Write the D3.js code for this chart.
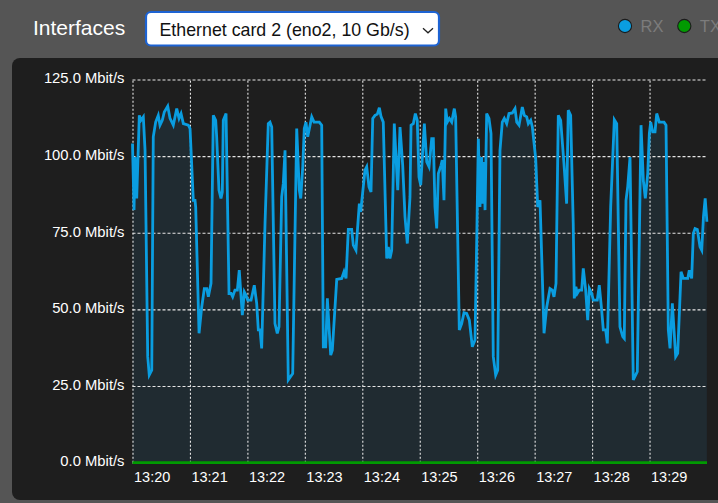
<!DOCTYPE html>
<html>
<head>
<meta charset="utf-8">
<script src="https://cdn.jsdelivr.net/npm/d3@7/dist/d3.min.js"></script>
<style>
  html, body { margin: 0; padding: 0; background: #555555; }
  svg { display: block; font-family: "Liberation Sans", Arial, Helvetica, sans-serif; }
</style>
</head>
<body>
<svg id="chart" width="718" height="503"></svg>
<script>
// Interface throughput samples: seconds after 13:20:00 and received rate in Mbit/s
const rxSeconds = [
  0, 1.6, 2.6, 4.4, 7.1, 8.9, 11.3, 13.1, 15.9, 17.5, 20.1, 21.7, 24.2, 26.9, 28.7, 31.1, 33.2, 36.8, 39.2, 42.6,
  46.2, 48.6, 50.7, 53.1, 58.3, 60.1, 63.5, 65.3, 66.0, 69.5, 72.3, 75.0, 77.5, 79.2, 82.0, 84.4, 86.9, 87.9, 90.3, 92.4,
  93.8, 94.8, 97.7, 100.8, 102.9, 104.6, 107.0, 109.5, 111.5, 114.7, 116.8, 118.5, 120.3, 123.8, 127.2, 129.7, 131.4, 133.2, 134.9, 138.4,
  141.8, 143.6, 145.4, 148.8, 151.2, 153.0, 155.8, 157.5, 159.3, 162.7, 167.3, 171.5, 174.2, 175.7, 177.8, 179.4, 181.2, 183.0, 187.2, 189.6,
  195.1, 197.6, 199.3, 201.8, 203.5, 207.0, 208.7, 213.3, 218.5, 220.9, 223.0, 225.4, 228.9, 230.6, 233.4, 236.9, 238.3, 241.0, 242.8, 244.6,
  247.0, 249.1, 250.9, 253.3, 255.7, 257.8, 259.5, 261.9, 265.5, 267.2, 268.9, 270.7, 273.4, 277.0, 279.4, 282.2, 284.6, 287.0, 289.8, 290.9,
  293.3, 295.4, 297.4, 299.2, 301.0, 302.7, 304.8, 307.3, 309.7, 312.5, 314.2, 315.9, 317.7, 319.4, 322.2, 323.5, 325.3, 327.1, 328.8, 330.9,
  333.4, 336.1, 337.5, 341.3, 343.8, 346.2, 349.0, 351.8, 354.9, 357.7, 359.5, 361.2, 362.9, 364.7, 365.7, 367.1, 368.2, 369.9, 372.3, 374.4,
  376.8, 379.3, 381.4, 383.8, 386.2, 388.3, 390.8, 393.2, 396.7, 399.5, 401.3, 403.7, 407.1, 409.2, 411.7, 413.4, 415.9, 417.6, 421.1, 423.2,
  425.6, 429.8, 432.6, 436.0, 438.4, 440.2, 442.3, 444.7, 447.2, 450.6, 453.4, 455.1, 457.6, 460.3, 461.4, 463.1, 464.5, 466.6, 469.1, 470.8,
  473.3, 475.4, 477.1, 479.6, 481.3, 485.4, 487.5, 490.0, 491.7, 494.2, 495.9, 499.4, 503.2, 505.7, 509.1, 512.0, 513.6, 515.4, 517.2, 519.6,
  523.0, 527.2, 531.1, 533.5, 535.6, 538.1, 539.8, 541.2, 543.3, 545.7, 547.5, 550.2, 555.1, 557.2, 559.6, 561.4, 563.8, 567.3, 569.4, 572.9,
  575.3, 579.9, 581.5, 584.0, 585.7, 587.5, 589.9, 592.7, 594.5, 596.3, 598.1, 599.9
];
const rxMbit = [
  104.1, 82.4, 99.7, 86.2, 113.3, 111.7, 112.8, 101.9, 34.6, 28.6, 30.2, 106.3, 111.1, 113.3, 110.1, 111.7, 114.4, 116.3, 112.3, 110.1,
  115.5, 112.3, 113.9, 110.6, 110.1, 109.0, 85.6, 85.6, 83.4, 42.2, 50.8, 56.8, 56.8, 54.1, 58.5, 113.3, 111.7, 106.3, 88.9, 86.2,
  88.3, 111.7, 113.9, 55.2, 55.2, 54.1, 56.3, 56.3, 62.8, 48.1, 55.7, 54.7, 53.0, 53.0, 57.9, 52.0, 43.3, 43.3, 37.3, 78.0,
  110.6, 111.1, 109.5, 45.4, 42.2, 44.3, 86.7, 91.1, 101.9, 27.0, 29.1, 109.0, 88.9, 86.2, 96.5, 109.0, 111.1, 106.3, 112.8, 111.1,
  111.1, 110.1, 37.8, 37.8, 53.6, 35.1, 36.7, 59.8, 60.1, 62.3, 60.1, 76.1, 76.1, 71.0, 69.3, 84.5, 81.8, 90.0, 95.4, 96.5,
  90.0, 88.3, 112.3, 113.3, 113.7, 115.8, 113.0, 111.1, 66.6, 70.4, 66.6, 69.3, 110.6, 88.9, 109.5, 97.0, 80.2, 71.5, 86.7, 110.1,
  110.6, 113.9, 111.7, 93.2, 90.5, 99.7, 110.6, 98.1, 96.5, 105.7, 105.7, 83.4, 76.4, 94.3, 97.0, 98.7, 85.6, 115.5, 111.1, 112.3,
  111.1, 115.5, 112.8, 43.3, 45.4, 48.9, 48.7, 46.5, 37.8, 40.0, 72.6, 105.7, 83.4, 99.7, 84.5, 98.1, 82.4, 113.9, 112.3, 107.4,
  34.6, 28.6, 30.2, 101.9, 111.1, 112.3, 110.6, 113.9, 114.1, 115.5, 111.1, 110.1, 116.0, 113.3, 112.8, 110.6, 111.7, 109.5, 99.2, 83.4,
  85.6, 42.2, 50.8, 56.8, 56.3, 54.1, 58.5, 113.3, 111.7, 97.6, 84.5, 115.0, 113.3, 78.0, 53.6, 57.4, 55.2, 56.3, 56.3, 63.4,
  56.3, 46.5, 56.8, 55.2, 53.0, 53.0, 57.9, 49.8, 43.3, 43.3, 38.9, 83.4, 111.9, 110.6, 44.3, 41.1, 40.5, 85.6, 90.0, 99.7,
  27.0, 29.7, 110.1, 92.1, 86.2, 94.3, 107.4, 111.1, 107.9, 107.9, 113.9, 111.1, 111.1, 110.1, 43.3, 37.3, 52.0, 34.6, 35.7, 62.3,
  60.1, 60.1, 62.8, 60.1, 74.8, 76.4, 76.1, 70.4, 69.3, 80.2, 86.2, 78.6
];
// Transmit rate over the same window (idle)
const txSeconds = [0, 600];
const txMbit = [0, 0];

const yTicks = [0, 25, 50, 75, 100, 125];
const xTickLabels = ["13:20", "13:21", "13:22", "13:23", "13:24", "13:25", "13:26", "13:27", "13:28", "13:29"];
const legendNames = ["RX", "TX"];
const seriesColors = { RX: "#0a9de0", TX: "#019a01" };
const interfaceLabel = "Ethernet card 2 (eno2, 10 Gb/s)";

(function draw() {
  const svg = d3.select("#chart");
  const W = 718, H = 503;

  // header band and chart panel
  svg.append("rect").attr("x", 0).attr("y", 0).attr("width", W).attr("height", H).attr("fill", "#555555");
  svg.append("rect").attr("x", 12).attr("y", 58).attr("width", 714).attr("height", 442).attr("rx", 8).attr("fill", "#1e1e1e");

  svg.append("text").attr("x", 33).attr("y", 35).attr("fill", "#ffffff")
    .attr("font-size", 21).text("Interfaces");

  // interface selector
  const sel = svg.append("g");
  sel.append("rect").attr("x", 146).attr("y", 12).attr("width", 293).attr("height", 33.5).attr("rx", 5)
    .attr("fill", "#ffffff").attr("stroke", "#1d63d3").attr("stroke-width", 2.2);
  sel.append("text").attr("x", 159.5).attr("y", 35.5).attr("fill", "#111").attr("font-size", 17.8).text(interfaceLabel);
  sel.append("path").attr("d", "M423,28.3 L428,32.8 L433,28.3").attr("fill", "none").attr("stroke", "#222").attr("stroke-width", 1.3);

  // legend
  const legendX = [625, 684.3];
  legendNames.forEach((n, i) => {
    svg.append("circle").attr("cx", legendX[i]).attr("cy", 26).attr("r", 6.6)
      .attr("fill", seriesColors[n]).attr("stroke", "#1c1c1c").attr("stroke-width", 1.1);
    svg.append("text").attr("x", legendX[i] + 15.5).attr("y", 32).attr("fill", "#7c7c7c")
      .attr("font-size", 16.5).text(n);
  });

  // plot geometry
  const pLeft = 132.5, pRight = 707, pTop = 79.5, pBottom = 462.7;
  const base = new Date(2024, 0, 1, 13, 20, 0);
  const at = s => new Date(base.getTime() + s * 1000);

  const x = d3.scaleTime().domain([at(0), at(600)]).range([pLeft, pRight]);
  const y = d3.scaleLinear().domain([0, 125]).range([pBottom, pTop]);

  const rx = rxSeconds.map((s, i) => ({ t: at(s), v: rxMbit[i] }));
  const tx = txSeconds.map((s, i) => ({ t: at(s), v: txMbit[i] }));

  // filled area under RX
  svg.append("path").datum(rx)
    .attr("d", d3.area().x(d => x(d.t)).y0(y(0)).y1(d => y(d.v)))
    .attr("fill", "#202b31");

  // grid + tick labels
  const parseHM = d3.timeParse("%Y-%m-%d %H:%M");
  const xTickDates = xTickLabels.map(l => parseHM("2024-01-01 " + l));

  const xAxis = svg.append("g").attr("transform", `translate(0,${pBottom})`)
    .call(d3.axisBottom(x).tickValues(xTickDates).tickFormat(d3.timeFormat("%H:%M")).tickSize(-(pBottom - pTop)).tickPadding(0));
  xAxis.select(".domain").remove();
  xAxis.selectAll("line").attr("stroke", "#e6e6e6").attr("stroke-width", 1.1).attr("stroke-dasharray", "2,2");
  xAxis.selectAll("text").attr("fill", "#ffffff").attr("font-size", 14.5)
    .attr("text-anchor", "start").attr("dx", 1).attr("y", 19.5).attr("dy", 0);

  const yAxis = svg.append("g").attr("transform", `translate(${pLeft},0)`)
    .call(d3.axisLeft(y).tickValues(yTicks).tickFormat(d => d3.format(".1f")(d) + " Mbit/s").tickSize(-(pRight - pLeft)).tickPadding(8));
  yAxis.select(".domain").remove();
  yAxis.selectAll("line").attr("stroke", "#e6e6e6").attr("stroke-width", 1.1).attr("stroke-dasharray", "3,2");
  yAxis.selectAll("text").attr("fill", "#ffffff").attr("font-size", 14.8).attr("dy", "0.22em");

  // RX line
  svg.append("path").datum(rx)
    .attr("d", d3.line().x(d => x(d.t)).y(d => y(d.v)))
    .attr("fill", "none").attr("stroke", seriesColors.RX).attr("stroke-width", 2.8).attr("stroke-linejoin", "miter");

  // TX line
  svg.append("path").datum(tx)
    .attr("d", d3.line().x(d => x(d.t)).y(d => y(d.v)))
    .attr("fill", "none").attr("stroke", seriesColors.TX).attr("stroke-width", 2.8);
})();
</script>
</body>
</html>
